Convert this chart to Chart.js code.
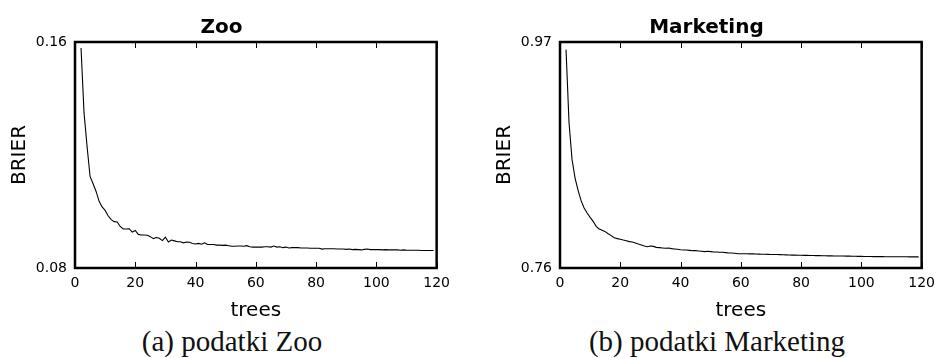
<!DOCTYPE html>
<html>
<head>
<meta charset="utf-8">
<script src="https://cdn.jsdelivr.net/npm/chart.js@4/dist/chart.umd.min.js"></script>
<style>
  body { margin: 0; background: #fff; width: 942px; height: 358px; position: relative; overflow: hidden; }
  .panel { position: absolute; top: 0; width: 457px; height: 323px; }
  .caption { position: absolute; top: 326px; width: 0; white-space: nowrap; text-align: center;
             font-family: "Liberation Serif", serif; font-size: 29px; line-height: 30px; color: #111; }
  .caption span { display: inline-block; transform: translateX(-50%); }
</style>
</head>
<body>
<div class="panel" style="left:0"><canvas id="zoo" width="457" height="323"></canvas></div>
<div class="panel" style="left:485px"><canvas id="marketing" width="457" height="323"></canvas></div>
<div class="caption" style="left:232px"><span>(a) podatki Zoo</span></div>
<div class="caption" style="left:717px"><span>(b) podatki Marketing</span></div>
<script>
// number of trees in the ensemble, 2..119
const trees = [];
for (let t = 2; t <= 119; t++) trees.push(t);

const zooBrier = [
  0.1579, 0.1349, 0.1231, 0.1124, 0.1098, 0.1071, 0.1036, 0.1016, 0.1004, 0.0985,
  0.0971, 0.0964, 0.0963, 0.0947, 0.0938, 0.0938, 0.0939, 0.0927, 0.0933, 0.0919,
  0.0917, 0.0917, 0.0916, 0.0911, 0.0904, 0.0908, 0.0905, 0.0897, 0.0909, 0.0892,
  0.0899, 0.0896, 0.0893, 0.0893, 0.0889, 0.0892, 0.0891, 0.0887, 0.0885, 0.0887,
  0.0884, 0.0889, 0.0883, 0.0883, 0.0883, 0.0881, 0.0881, 0.0880, 0.0881, 0.0879,
  0.0877, 0.0877, 0.0878, 0.0878, 0.0877, 0.0879, 0.0875, 0.0874, 0.0874, 0.0874,
  0.0874, 0.0875, 0.0875, 0.0874, 0.0878, 0.0874, 0.0875, 0.0872, 0.0874, 0.0871,
  0.0872, 0.0872, 0.0872, 0.0871, 0.0871, 0.0871, 0.0870, 0.0870, 0.0870, 0.0870,
  0.0867, 0.0868, 0.0868, 0.0868, 0.0868, 0.0867, 0.0867, 0.0867, 0.0866, 0.0867,
  0.0865, 0.0866, 0.0865, 0.0864, 0.0866, 0.0867, 0.0865, 0.0865, 0.0865, 0.0865,
  0.0864, 0.0865, 0.0864, 0.0864, 0.0864, 0.0864, 0.0863, 0.0864, 0.0863, 0.0863,
  0.0863, 0.0863, 0.0863, 0.0862, 0.0862, 0.0862, 0.0862, 0.0862
];

const marketingBrier = [
  0.9629, 0.8947, 0.8607, 0.8436, 0.8322, 0.8226, 0.8158, 0.8111, 0.8071, 0.8034,
  0.7987, 0.7963, 0.7950, 0.7938, 0.7919, 0.7901, 0.7882, 0.7873, 0.7867, 0.7860,
  0.7854, 0.7845, 0.7842, 0.7833, 0.7823, 0.7814, 0.7805, 0.7798, 0.7805, 0.7801,
  0.7792, 0.7789, 0.7786, 0.7783, 0.7786, 0.7780, 0.7777, 0.7774, 0.7770, 0.7767,
  0.7767, 0.7764, 0.7761, 0.7761, 0.7758, 0.7755, 0.7752, 0.7755, 0.7752, 0.7749,
  0.7749, 0.7746, 0.7746, 0.7743, 0.7740, 0.7740, 0.7737, 0.7733, 0.7733, 0.7733,
  0.7732, 0.7731, 0.7731, 0.7730, 0.7729, 0.7728, 0.7728, 0.7727, 0.7726, 0.7725,
  0.7725, 0.7724, 0.7723, 0.7722, 0.7721, 0.7720, 0.7720, 0.7719, 0.7718, 0.7717,
  0.7717, 0.7716, 0.7716, 0.7715, 0.7715, 0.7714, 0.7714, 0.7713, 0.7713, 0.7712,
  0.7712, 0.7711, 0.7711, 0.7710, 0.7710, 0.7709, 0.7709, 0.7708, 0.7708, 0.7707,
  0.7707, 0.7707, 0.7706, 0.7706, 0.7706, 0.7706, 0.7705, 0.7705, 0.7705, 0.7705,
  0.7704, 0.7704, 0.7704, 0.7704, 0.7703, 0.7703, 0.7703, 0.7703
];

const xTicks = [0, 20, 40, 60, 80, 100, 120];
const zooYTicks = [0.08, 0.16];
const marketingYTicks = [0.76, 0.97];

const FONT = '"DejaVu Sans", sans-serif';

// black box round the plot plus inward tick marks on top and bottom edges
const framePlugin = {
  id: 'frame',
  afterDatasetsDraw(chart) {
    const { ctx, chartArea: a, scales } = chart;
    ctx.save();
    ctx.strokeStyle = '#000';
    ctx.lineWidth = 1;
    ctx.beginPath();
    scales.x.ticks.forEach(t => {
      const px = Math.round(scales.x.getPixelForValue(t.value)) + 0.5;
      ctx.moveTo(px, a.bottom); ctx.lineTo(px, a.bottom - 6);
      ctx.moveTo(px, a.top); ctx.lineTo(px, a.top + 6);
    });
    ctx.stroke();
    ctx.lineWidth = 2.5;
    ctx.strokeRect(a.left, a.top, a.right - a.left, a.bottom - a.top);
    ctx.restore();
  }
};

function makeChart(id, title, values, yTicks) {
  const points = trees.map((t, i) => ({ x: t, y: values[i] }));
  return new Chart(document.getElementById(id), {
    type: 'line',
    data: {
      datasets: [{
        data: points,
        borderColor: '#000',
        borderWidth: 1.1,
        pointRadius: 0,
        tension: 0,
        fill: false
      }]
    },
    options: {
      responsive: false,
      animation: false,
      devicePixelRatio: 1,
      layout: { padding: { left: 0, right: 14, top: 0, bottom: 0 } },
      plugins: {
        legend: { display: false },
        tooltip: { enabled: false },
        title: {
          display: true,
          text: title,
          color: '#000',
          font: { family: FONT, size: 20, weight: 'bold' },
          padding: { top: 16, bottom: 2 }
        }
      },
      scales: {
        x: {
          type: 'linear',
          min: 0,
          max: 120,
          afterBuildTicks: s => { s.ticks = xTicks.map(v => ({ value: v })); },
          afterFit: s => { s.height = 55; },
          grid: { display: false, drawTicks: false },
          border: { display: false },
          ticks: { color: '#000', padding: 7, maxRotation: 0, font: { family: FONT, size: 14 } },
          title: {
            display: true,
            text: 'trees',
            color: '#000',
            font: { family: FONT, size: 20 },
            padding: { top: 0, bottom: 0 }
          }
        },
        y: {
          min: yTicks[0],
          max: yTicks[1],
          afterBuildTicks: s => { s.ticks = yTicks.map(v => ({ value: v })); },
          afterFit: s => { s.width = 75; },
          grid: { display: false, drawTicks: false },
          border: { display: false },
          ticks: {
            color: '#000',
            padding: 8,
            font: { family: FONT, size: 14 },
            callback: v => v.toFixed(2)
          },
          title: {
            display: true,
            text: 'BRIER',
            color: '#000',
            font: { family: FONT, size: 20 },
            padding: { top: 8, bottom: 0 }
          }
        }
      }
    },
    plugins: [framePlugin]
  });
}

makeChart('zoo', 'Zoo', zooBrier, zooYTicks);
makeChart('marketing', 'Marketing', marketingBrier, marketingYTicks);
</script>
</body>
</html>
